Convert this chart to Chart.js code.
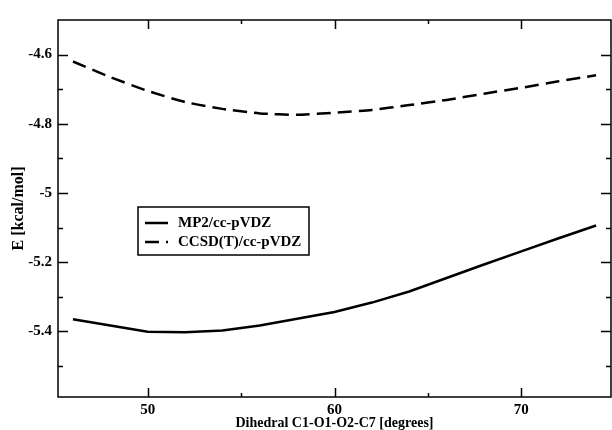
<!DOCTYPE html>
<html>
<head>
<meta charset="utf-8">
<script src="https://cdn.jsdelivr.net/npm/chart.js@4"></script>
<style>
  html, body { margin: 0; padding: 0; background: #fff; overflow: hidden; }
  #wrap { width: 612px; height: 430px; }
</style>
</head>
<body>
<div id="wrap"><canvas id="energyChart" width="612" height="430"></canvas></div>
<script>
// dihedral angle C1-O1-O2-C7 in degrees
const dihedral = [46, 48, 50, 52, 54, 56, 58, 60, 62, 64, 66, 68, 70, 72, 74];
// interaction energies, kcal/mol
const mp2   = [-5.365, -5.383, -5.401, -5.403, -5.398, -5.383, -5.364, -5.344, -5.317, -5.285, -5.246, -5.207, -5.169, -5.131, -5.094];
const ccsdt = [-4.620, -4.665, -4.705, -4.737, -4.757, -4.770, -4.774, -4.768, -4.760, -4.746, -4.731, -4.713, -4.696, -4.677, -4.660];

const seriesLabels = ['MP2/cc-pVDZ', 'CCSD(T)/cc-pVDZ'];
const xMajor = [50, 60, 70];
const xMinor = [55, 65];
const yMajor = [-4.6, -4.8, -5, -5.2, -5.4];
const yMinor = [-4.7, -4.9, -5.1, -5.3, -5.5];

const serif = '"Liberation Serif", "DejaVu Serif", serif';

const toPoints = (ys) => dihedral.map((x, i) => ({ x: x, y: ys[i] }));

// frame with inward ticks on all four sides + boxed legend
const framePlugin = {
    id: 'frame',
    afterDatasetsDraw(chart, args, opts) {
        const { ctx: c, chartArea: a, scales } = chart;
        const xs = scales.x, ys = scales.y;
        c.save();
        c.strokeStyle = '#000';
        c.lineWidth = 1.5;
        c.strokeRect(a.left, a.top, a.right - a.left, a.bottom - a.top);

        c.beginPath();
        const tickX = (vals, len) => vals.forEach(v => {
            const px = Math.round(xs.getPixelForValue(v)) + 0.5;
            c.moveTo(px, a.bottom); c.lineTo(px, a.bottom - len);
            c.moveTo(px, a.top);    c.lineTo(px, a.top + len);
        });
        const tickY = (vals, len) => vals.forEach(v => {
            const py = Math.round(ys.getPixelForValue(v)) + 0.5;
            c.moveTo(a.left, py);  c.lineTo(a.left + len, py);
            c.moveTo(a.right, py); c.lineTo(a.right - len, py);
        });
        tickX(xMajor, 9);
        tickX(xMinor, 4);
        tickY(yMajor, 10);
        tickY(yMinor, 5);
        c.stroke();

        // legend
        const L = opts.legend;
        c.fillStyle = '#fff';
        c.fillRect(L.x, L.y, L.w, L.h);
        c.strokeRect(L.x, L.y, L.w, L.h);
        c.font = 'bold 15px ' + serif;
        c.textBaseline = 'middle';
        c.fillStyle = '#000';
        chart.data.datasets.forEach((ds, i) => {
            const yy = L.y + L.firstRow + i * L.rowGap;
            c.beginPath();
            c.lineWidth = ds.borderWidth;
            c.setLineDash(ds.borderDash || []);
            c.moveTo(L.x + 7, yy);
            c.lineTo(L.x + 30, yy);
            c.stroke();
            c.setLineDash([]);
            c.fillText(ds.label, L.x + 40, yy);
        });
        c.restore();
    }
};

const ctx = document.getElementById('energyChart').getContext('2d');

new Chart(ctx, {
    type: 'line',
    data: {
        datasets: [{
            label: seriesLabels[0],
            data: toPoints(mp2),
            borderColor: '#000',
            borderWidth: 2.5,
            pointRadius: 0,
            tension: 0,
            fill: false,
        }, {
            label: seriesLabels[1],
            data: toPoints(ccsdt),
            borderColor: '#000',
            borderWidth: 2.5,
            borderDash: [14, 7],
            pointRadius: 0,
            tension: 0.2,
            fill: false,
        }]
    },
    options: {
        responsive: false,
        animation: false,
        layout: { padding: { top: 20, right: 1, left: 0, bottom: 0 } },
        plugins: {
            legend: { display: false },
            tooltip: { enabled: false },
            frame: {
                legend: { x: 138, y: 207, w: 171, h: 48, firstRow: 16, rowGap: 19 }
            }
        },
        scales: {
            x: {
                type: 'linear',
                min: 45.2,
                max: 74.8,
                grid: { display: false, drawTicks: false },
                border: { display: false },
                afterBuildTicks: (s) => { s.ticks = xMajor.map(v => ({ value: v })); },
                afterFit: (s) => { s.height = 33; },
                ticks: {
                    color: '#000',
                    padding: 6,
                    font: { size: 15, weight: 'bold', family: serif, lineHeight: 1 },
                    callback: (v) => String(v),
                },
                title: {
                    display: true,
                    text: 'Dihedral C1-O1-O2-C7 [degrees]',
                    color: '#000',
                    padding: { top: 0, bottom: 0 },
                    font: { size: 14, weight: 'bold', family: serif, lineHeight: 1 },
                }
            },
            y: {
                min: -5.59,
                max: -4.5,
                grid: { display: false, drawTicks: false },
                border: { display: false },
                afterBuildTicks: (s) => { s.ticks = yMajor.map(v => ({ value: v })); },
                afterFit: (s) => { s.width = 58; },
                ticks: {
                    color: '#000',
                    padding: 6,
                    font: { size: 15, weight: 'bold', family: serif },
                    callback: (v) => String(Number(v.toFixed(1))),
                },
                title: {
                    display: true,
                    text: 'E [kcal/mol]',
                    color: '#000',
                    padding: { top: 9, bottom: 0 },
                    font: { size: 16, weight: 'bold', family: serif },
                }
            }
        }
    },
    plugins: [framePlugin]
});
</script>
</body>
</html>
